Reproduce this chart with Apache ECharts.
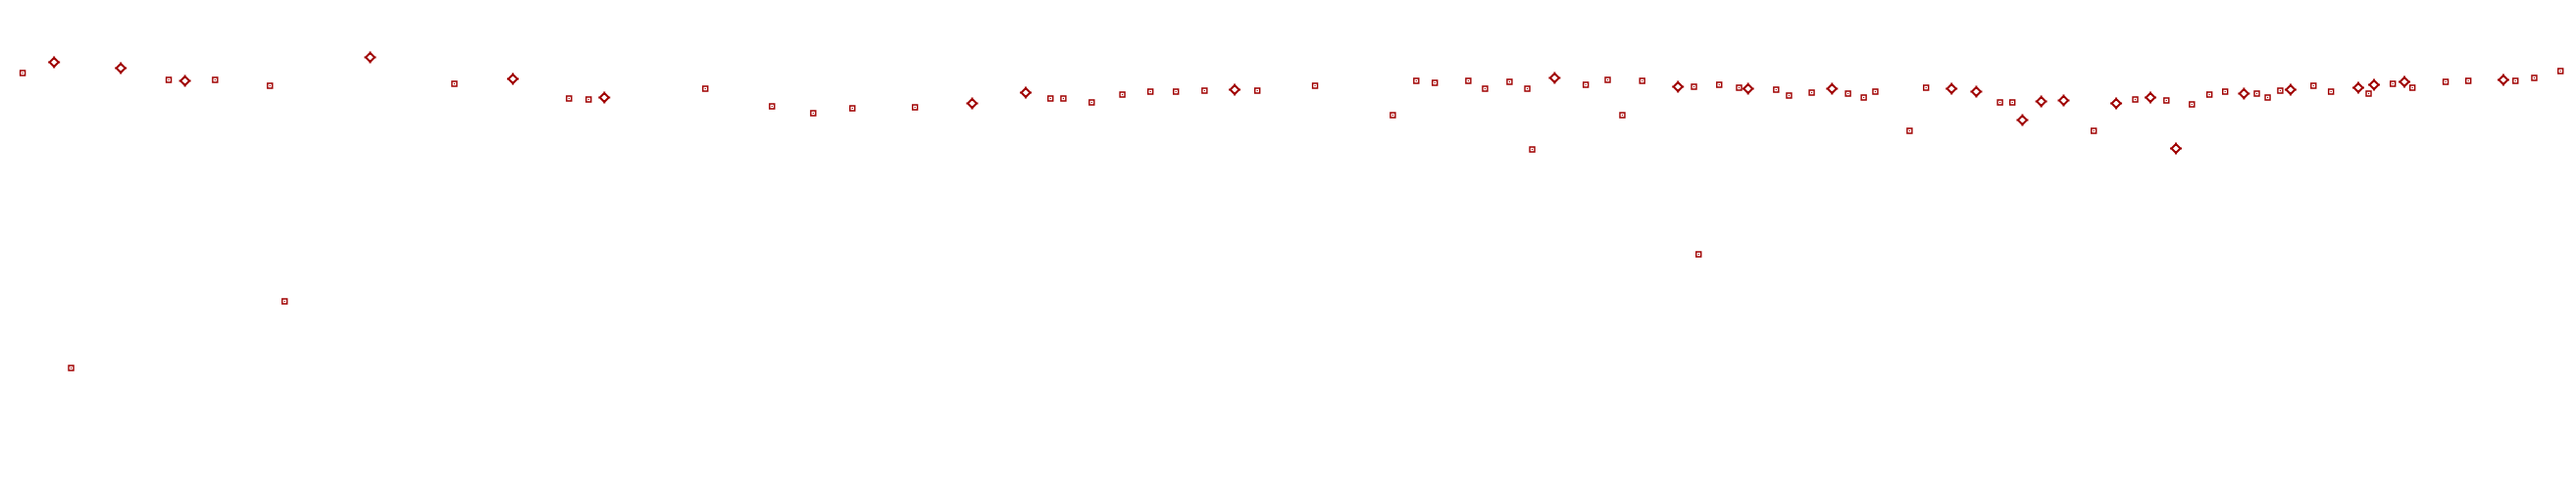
<!DOCTYPE html>
<html>
<head>
<meta charset="utf-8">
<script src="https://cdn.jsdelivr.net/npm/echarts@6/dist/echarts.min.js"></script>
<style>html,body{margin:0;padding:0;background:#fff;}#chart{width:2627px;height:500px;}</style>
</head>
<body>
<div id="chart"></div>
<script>
// Series A: small hollow squares (x, y)
const squareX = [8.8,27.6,65.5,83.5,104.8,110.5,176.4,220.9,228.5,273.8,299.7,315.7,330.9,355.2,407.8,412.8,423.8,435.7,446.6,456.5,467.6,488.1,510.5,540.7,549.8,557.0,570.0,576.5,586.0,592.9,594.8,615.6,624.1,629.8,637.5,657.6,659.4,667.4,675.1,689.5,694.5,703.3,717.4,723.5,728.0,741.3,747.7,776.4,781.2,812.8,828.9,841.0,850.9,857.7,863.8,876.1,880.3,885.2,898.1,904.9,919.5,928.9,936.5,949.4,958.2,976.5,983.8,994.0];
const squareY = [85.1,24.9,83.7,83.7,82.5,38.5,82.9,79.9,79.7,81.9,78.3,76.9,77.9,78.1,79.9,79.9,79.1,80.7,81.3,81.3,81.5,81.5,82.5,76.5,83.5,83.1,83.5,81.9,83.3,81.9,69.5,82.7,83.7,76.5,83.5,82.3,48.1,82.7,82.1,81.7,80.5,81.1,80.9,80.1,81.3,73.3,82.1,79.1,79.1,73.3,79.7,79.5,78.7,80.7,81.3,80.9,80.1,81.5,82.5,81.3,80.9,82.9,82.1,83.3,83.5,83.5,84.1,85.5];
// Series B: larger hollow diamonds (x, y)
const diamondX = [21.0,46.9,71.8,143.7,199.1,234.6,377.4,398.2,479.3,603.5,651.4,678.6,711.2,757.6,767.2,785.1,792.4,801.1,821.5,834.8,844.7,871.1,889.2,915.5,921.6,933.4,971.8];
const diamondY = [87.3,86.1,83.5,88.3,83.9,80.1,78.9,81.1,81.7,84.1,82.3,81.9,81.9,81.9,81.3,75.5,79.3,79.5,78.9,80.1,69.7,80.9,81.7,82.1,82.7,83.3,83.7];

const RED = '#a00000';
const sq = squareX.map((x, i) => [x, squareY[i]]);
const dm = diamondX.map((x, i) => [x, diamondY[i]]);

const chart = echarts.init(document.getElementById('chart'), null, {renderer: 'canvas'});
chart.setOption({
  animation: false,
  backgroundColor: '#ffffff',
  grid: {left: 0, right: 0, top: 0, bottom: 0},
  xAxis: {type: 'value', min: 0, max: 1000, show: false},
  yAxis: {type: 'value', min: 0, max: 100, show: false},
  series: [
    {
      type: 'scatter', data: sq, symbol: 'rect', symbolSize: 5,
      itemStyle: {color: '#ffffff', borderColor: RED, borderWidth: 1.4, opacity: 1}
    },
    {
      type: 'scatter', data: sq, symbol: 'rect', symbolSize: 1.2,
      itemStyle: {color: RED, opacity: 1}
    },
    {
      type: 'scatter', data: dm,
      symbol: 'path://M6,1.5L10.5,6L6,10.5L1.5,6Z M6,0L6,1.5 M6,10.5L6,12 M0,6L1.5,6 M10.5,6L12,6',
      symbolSize: 12,
      itemStyle: {color: '#ffffff', borderColor: RED, borderWidth: 2, opacity: 1}
    }
  ]
});
</script>
</body>
</html>
